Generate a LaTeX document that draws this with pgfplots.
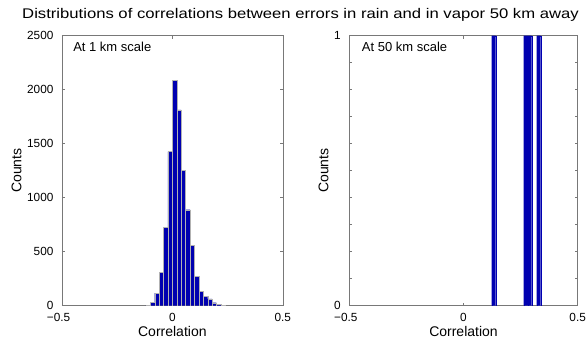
\documentclass[border=0pt]{standalone}
\usepackage{fontspec}
\setmainfont{Liberation Sans}
\newfontfamily\titlefont{Liberation Sans}[FakeStretch=1.19]
\usepackage{pgfplots}
\pgfplotsset{compat=1.18}
\definecolor{barblue}{RGB}{0,0,176}
\definecolor{axgray}{RGB}{120,120,120}
\begin{document}
\begin{tikzpicture}[x=1pt,y=1pt]
\useasboundingbox (0,0) rectangle (587,339);
\pgfplotsset{
  common/.style={
    scale only axis,
    axis line style={axgray},
    every tick/.style={axgray, line width=0.4pt},
    major tick length=3pt,
    minor tick length=3pt,
    tick align=inside,
    xmin=-0.5, xmax=0.5,
    xtick={-0.5,0,0.5},
    xticklabels={\llap{−}0.5,0,0.5},
    ticklabel style={font=\fontsize{11.8}{13}\selectfont, inner sep=0.5pt},
    label style={font=\fontsize{14}{16}\selectfont},
    xlabel={Correlation},
    ylabel={Counts},
    xticklabel style={yshift=-6.5pt},
    yticklabel style={xshift=-7.9pt},
    xlabel style={yshift=-1pt},
    ylabel style={yshift=1.5pt},
  }
}
\begin{axis}[common,
  at={(62pt,33.3pt)}, anchor=south west,
  width=220.7pt, height=270pt,
  ymin=0, ymax=2500,
  ytick={0,500,1000,1500,2000,2500},
  /pgf/number format/assume math mode=true,
  scaled y ticks=false,
  yticklabel style={/pgf/number format/set thousands separator={}},
]
\addplot[ybar interval, fill=barblue, draw=gray!60, line width=0.3pt] coordinates {
(-0.12,6) (-0.10,34) (-0.08,117) (-0.06,307) (-0.04,726) (-0.02,1427)
(0.00,2085) (0.02,1814) (0.04,1252) (0.06,889) (0.08,557) (0.10,274)
(0.12,135) (0.14,86) (0.16,62) (0.18,28) (0.20,15) (0.22,6) (0.24,0)
};
\node[anchor=west, font=\fontsize{13}{15}\selectfont] at (rel axis cs:0.035,0.958) {At 1 km scale};
\end{axis}
\begin{axis}[common,
  at={(349.3pt,33.3pt)}, anchor=south west,
  width=228.4pt, height=270pt,
  ymin=0, ymax=1,
  ytick={0,1},
  minor ytick={0.1,0.2,0.3,0.4,0.5,0.6,0.7,0.8,0.9},
  /pgf/number format/assume math mode=true,
]
\addplot[ybar, bar width=0.0175, bar shift=0pt, fill=barblue, draw=barblue, line width=0.2pt] coordinates {
(0.132,1) (0.272,1) (0.290,1) (0.329,1)
};
\node[anchor=west, font=\fontsize{13}{15}\selectfont] at (rel axis cs:0.04,0.958) {At 50 km scale};
\end{axis}
\node[font=\titlefont\fontsize{14}{16}\selectfont] at (300.5,324) {Distributions of correlations between errors in rain and in vapor 50 km away};
\end{tikzpicture}
\end{document}
